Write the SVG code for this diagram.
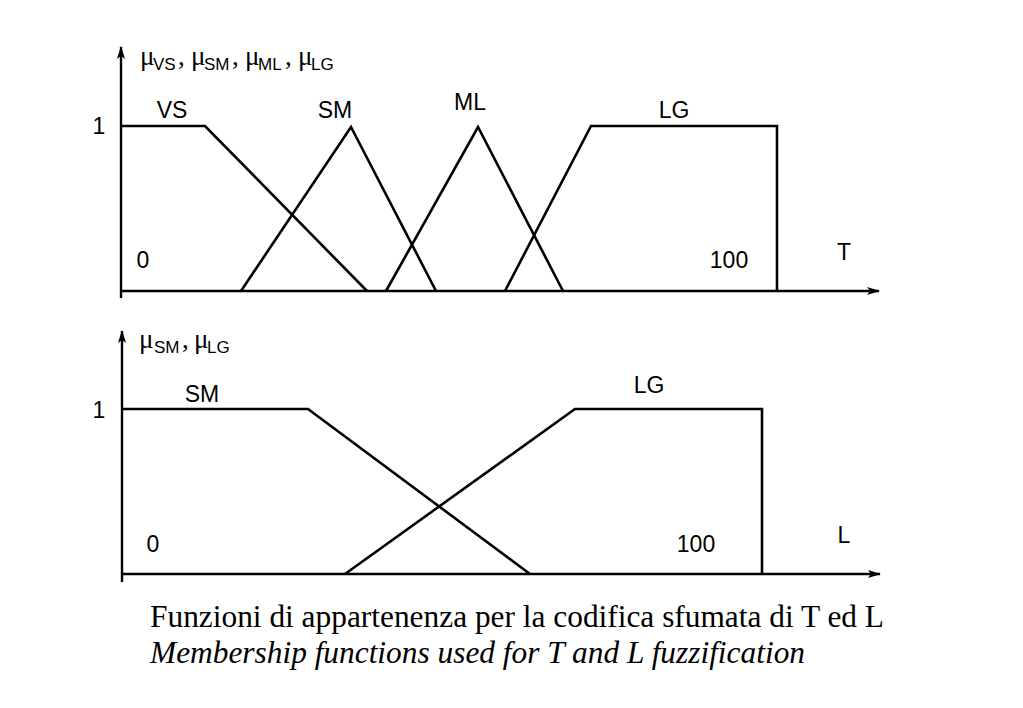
<svg xmlns="http://www.w3.org/2000/svg" width="1023" height="708" viewBox="0 0 1023 708">
<style>
.ln{fill:none;stroke:#000;stroke-width:2.6;stroke-linejoin:miter}
.ax{fill:none;stroke:#000;stroke-width:2.4}
.lb{font-family:"Liberation Sans",Arial,sans-serif;font-size:23px;fill:#000}
.mu{font-family:"Liberation Serif","Times New Roman",serif;font-size:27px;fill:#000}
.sb{font-family:"Liberation Sans",Arial,sans-serif;font-size:17px;fill:#000}
.cap{font-family:"Liberation Serif","Times New Roman",serif;font-size:31px;fill:#000}
</style>
<defs>
<marker id="arr" markerWidth="14" markerHeight="10" refX="12" refY="5" orient="auto" markerUnits="userSpaceOnUse">
<path d="M0,1 L13,5 L0,9 L3,5 Z" fill="#000"/>
</marker>
</defs>
<g id="connectors">
<g id="axes-top">
<line class="ax" x1="121" y1="298" x2="121" y2="47" marker-end="url(#arr)"/>
<line class="ax" x1="121" y1="291" x2="879" y2="291" marker-end="url(#arr)"/>
</g>
<g id="axes-bottom">
<line class="ax" x1="122" y1="582" x2="122" y2="331" marker-end="url(#arr)"/>
<line class="ax" x1="122" y1="574" x2="880" y2="574" marker-end="url(#arr)"/>
</g>
</g>
<g id="top-plot">
<g id="VS"><polyline class="ln" points="121,126 205,126 367,291"/><text class="lb" x="172" y="118" text-anchor="middle">VS</text></g>
<g id="SM"><polyline class="ln" points="241,291 351,127 436,291"/><text class="lb" x="335" y="118" text-anchor="middle">SM</text></g>
<g id="ML"><polyline class="ln" points="386,291 478,127 563,291"/><text class="lb" x="470" y="110" text-anchor="middle">ML</text></g>
<g id="LG"><polyline class="ln" points="505,291 591,126 777,126 777,291"/><text class="lb" x="674" y="118" text-anchor="middle">LG</text></g>
<g id="top-labels">
<text class="lb" x="99" y="134" text-anchor="middle">1</text>
<text class="lb" x="143" y="268" text-anchor="middle">0</text>
<text class="lb" x="729" y="268" text-anchor="middle">100</text>
<text class="lb" x="844" y="260" text-anchor="middle">T</text>
<text y="65"><tspan class="mu" x="140">μ</tspan><tspan class="sb" x="153" y="70">VS</tspan><tspan class="mu" x="178" y="65">,</tspan><tspan class="mu" x="191">μ</tspan><tspan class="sb" x="204" y="70">SM</tspan><tspan class="mu" x="232" y="65">,</tspan><tspan class="mu" x="245">μ</tspan><tspan class="sb" x="258" y="70">ML</tspan><tspan class="mu" x="285" y="65">,</tspan><tspan class="mu" x="298">μ</tspan><tspan class="sb" x="311" y="70">LG</tspan></text>
</g>
</g>
<g id="bottom-plot">
<g id="SM2"><polyline class="ln" points="122,409 308,409 530,574"/><text class="lb" x="202" y="402" text-anchor="middle">SM</text></g>
<g id="LG2"><polyline class="ln" points="345,574 575,409 762,409 762,574"/><text class="lb" x="649" y="393" text-anchor="middle">LG</text></g>
<g id="bottom-labels">
<text class="lb" x="99" y="418" text-anchor="middle">1</text>
<text class="lb" x="153" y="552" text-anchor="middle">0</text>
<text class="lb" x="696" y="552" text-anchor="middle">100</text>
<text class="lb" x="844" y="543" text-anchor="middle">L</text>
<text y="348"><tspan class="mu" x="139">μ</tspan><tspan class="sb" x="154" y="353">SM</tspan><tspan class="mu" x="182" y="348">,</tspan><tspan class="mu" x="194">μ</tspan><tspan class="sb" x="207" y="353">LG</tspan></text>
</g>
</g>
<g id="caption">
<text class="cap" x="150" y="627" textLength="734" lengthAdjust="spacingAndGlyphs">Funzioni di appartenenza per la codifica sfumata di T ed L</text>
<text class="cap" x="150" y="663" font-style="italic" textLength="655" lengthAdjust="spacingAndGlyphs">Membership functions used for T and L fuzzification</text>
</g>
</svg>
